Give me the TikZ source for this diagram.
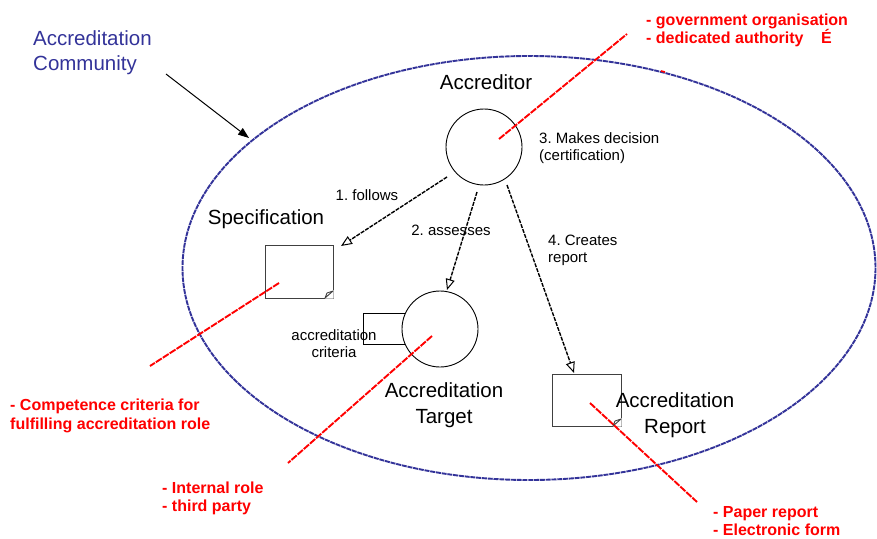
\documentclass[tikz,border=0pt]{standalone}
\usepackage{fontspec}
\setmainfont{Liberation Sans}
\usetikzlibrary{arrows.meta}
\definecolor{commblue}{RGB}{51,51,153}
\definecolor{notered}{RGB}{255,0,0}
\frenchspacing
\begin{document}
\begin{tikzpicture}[x=1pt,y=-1pt,
  lbl/.style={font=\fontsize{15}{17}\selectfont, inner sep=0pt},
  big/.style={font=\fontsize{20.5}{25.5}\selectfont, inner sep=0pt, align=center},
  note/.style={font=\bfseries\fontsize{16}{18.5}\selectfont, text=notered, inner sep=0pt, align=left, anchor=west},
  lead/.style={notered, line width=1.9pt, dash pattern=on 7pt off 1.2pt},
  flow/.style={line width=1.4pt, dash pattern=on 4pt off 1.2pt, -{Triangle[open, length=11pt, width=9pt, line width=1pt]}},
  doc/.style={draw=black!75, line width=0.9pt, fill=white, inner sep=0pt},
  actor/.style={circle, draw, line width=0.9pt, minimum size=76pt, inner sep=0pt, fill=white}]

\useasboundingbox (0,0) rectangle (877,538);

% community boundary
\draw[commblue, line width=1.9pt, dash pattern=on 5pt off 0.8pt]
  (529,268) ellipse [x radius=346.5, y radius=212];
\draw[notered, line width=1.6pt] (661,71) -- (665,72);

% community label and pointer
\node[big, align=left, anchor=west, text=commblue] (comm) at (33,52.5)
  {Accreditation\\Community};
\coordinate (commfrom) at (166,74);
\coordinate (commtip) at (249,138);
\draw[line width=1pt, -{Triangle[length=11pt, width=8pt]}] (commfrom) -- (commtip);

% specification document
\node[doc, minimum width=68pt, minimum height=53pt] (spec) at (299,271.5) {};
\fill[white] (333.6,290) -- (333.6,298.6) -- (325,298.6) -- cycle;
\draw[black!75, line width=0.9pt] (333,291) -- (325,298)
  (325,298) -- (327,293) -- (333,291);
\node[big] (spectxt) at (266,219) {Specification};

% accreditation report document
\node[doc, minimum width=69pt, minimum height=52pt] (rep) at (586.5,400) {};
\fill[white] (621.6,418) -- (621.6,426.6) -- (613,426.6) -- cycle;
\draw[black!75, line width=0.9pt] (621,419) -- (613,426)
  (613,426) -- (615,421) -- (621,419);
\node[big] (reptxt) at (675,415) {Accreditation\\Report};

% accreditor
\node[actor] (accr) at (484,147) {};
\node[big] (accrtxt) at (486,82) {Accreditor};

% accreditation target with its criteria
\node[draw, line width=0.9pt, minimum width=44pt, minimum height=31pt, inner sep=0pt]
  (crit) at (385,328.5) {};
\node[actor] (target) at (440,329) {};
\node[lbl, align=center] (crittxt) at (334,343.5) {accreditation\\criteria};
\node[big] (targettxt) at (444,405) {Accreditation\\Target};

% relations
\coordinate (f1s) at (447,177);
\coordinate (f1e) at (341,246);
\coordinate (f2s) at (477,192);
\coordinate (f2e) at (447,290);
\coordinate (f4s) at (507,185);
\coordinate (f4e) at (574,373);
\draw[flow] (f1s) -- (f1e);
\draw[flow] (f2s) -- (f2e);
\draw[flow] (f4s) -- (f4e);
\node[lbl] (l1) at (367,195) {1. follows};
\node[lbl] (l2) at (451,230) {2. assesses};
\node[lbl, align=left, anchor=west] (l3) at (539,148.5) {3. Makes decision\\(certification)};
\node[lbl, align=left, anchor=west] (l4) at (548,250) {4. Creates\\report};

% annotations
\node[note] (ngov) at (646,30.5) {- government organisation\\- dedicated authority\hspace{1.1em}É};
\node[note] (ncomp) at (10,416) {- Competence criteria for\\fulfilling accreditation role};
\node[note] (nrole) at (162,498.5) {- Internal role\\- third party};
\node[note] (nrep) at (713,521) {- Paper report\\- Electronic form};

\coordinate (govtip) at (627,34);
\coordinate (spectail) at (279,283);
\coordinate (comptip) at (150,366);
\coordinate (targettail) at (432,336);
\coordinate (roletip) at (288,463);
\coordinate (reptail) at (590,403);
\coordinate (reptip) at (697,502);
\draw[lead] (accr.center) ++(15,-8) -- (govtip);
\draw[lead] (spectail) -- (comptip);
\draw[lead] (targettail) -- (roletip);
\draw[lead] (reptail) -- (reptip);
\end{tikzpicture}
\end{document}
